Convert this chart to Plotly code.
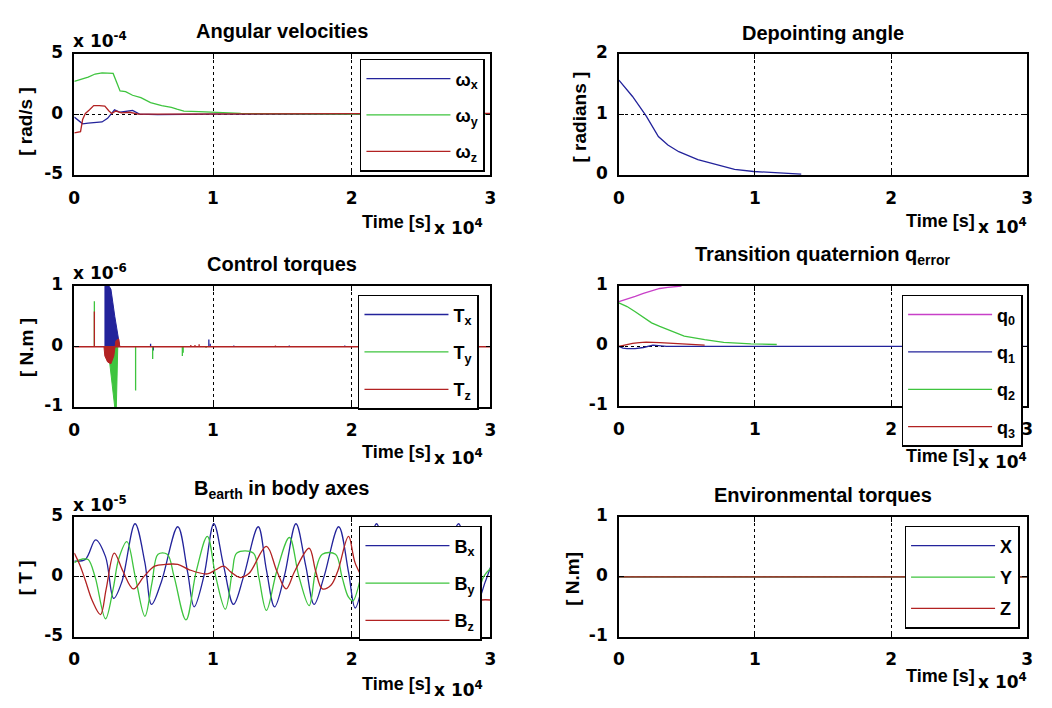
import plotly.graph_objects as go

FONT = "Liberation Sans"
FONT_W = "DejaVu Sans"
PAGE_W, PAGE_H = 1052, 708
BODY_MARGIN = 8                      # default browser margin around the plot div
W, H = PAGE_W - 2 * BODY_MARGIN, PAGE_H - 2 * BODY_MARGIN

C_BLUE = "#23239b"
C_GREEN = "#3ec43e"
C_RED = "#b22222"
C_MAG = "#c840c8"

# ---------------- data ----------------
# Angular velocities (x 1e-4 rad/s)
wx_t = [0, 300, 600, 1000, 1500, 2000, 2400, 2900, 3300, 3700, 4200, 4700, 6000, 10000, 20000, 30000]
wx_v = [-0.2, -0.5, -0.75, -0.7, -0.65, -0.6, -0.3, 0.4, 0.2, 0.25, 0.35, 0.05, 0.0, 0.05, 0.02, 0.02]
wy_t = [0, 500, 1000, 1500, 2000, 2800, 3300, 3700, 4200, 4800, 5500, 6300, 7000, 7400, 7900, 9000, 10500, 12000, 20000, 30000]
wy_v = [2.75, 2.9, 3.1, 3.35, 3.45, 3.4, 1.95, 1.9, 1.6, 1.4, 1.0, 0.75, 0.6, 0.45, 0.3, 0.25, 0.18, 0.1, 0.05, 0.05]
wz_t = [0, 200, 450, 600, 800, 1100, 1400, 1800, 2200, 2500, 2700, 3000, 3400, 4000, 4600, 6000, 10000, 20000, 30000]
wz_v = [-1.5, -1.45, -1.4, -0.4, 0.1, 0.4, 0.75, 0.75, 0.7, 0.3, 0.1, 0.3, 0.15, 0.2, 0.05, 0.05, 0.05, 0.1, 0.1]

# Depointing angle (rad)
dp_t = [0, 1000, 2000, 2900, 3600, 4400, 5800, 7300, 8500, 9900, 11800, 13400]
dp_v = [1.57, 1.30, 0.98, 0.64, 0.50, 0.39, 0.26, 0.17, 0.10, 0.064, 0.035, 0.02]

# Control torques (x 1e-6 N.m): short spikes (time, value) and dense burst envelopes
tx_spk_t = [5500, 5700, 9700, 9800, 11500, 15500, 19500]
tx_spk_v = [0.05, -0.06, 0.12, 0.05, 0.02, 0.02, 0.02]
tx_env_t = [2210, 2210, 2500, 2640, 2920, 3160, 3280]
tx_env_v = [0.0, 1.0, 1.0, 0.95, 0.5, 0.12, 0.0]
ty_spk_t = [1447, 4420, 5650, 7790, 7850, 9500]
ty_spk_v = [0.75, -0.72, -0.2, -0.15, -0.1, -0.02]
ty_env_t = [2420, 2640, 2850, 2920, 3030, 3100, 3135]
ty_env_v = [0.0, -0.4, -0.85, -1.0, -1.0, -0.35, 0.0]
tz_spk_t = [1447, 8400, 8700, 9000, 14500]
tz_spk_v = [0.58, 0.03, 0.03, 0.04, 0.02]
tz_env_t = [2140, 2200, 2400, 2640, 2850, 2920, 3000, 3200, 3280]
tz_env_v = [0.0, -0.15, -0.25, -0.28, -0.15, 0.0, 0.1, 0.13, 0.0]
torque_span = [0, 30000]

# Transition quaternion q_error
q0_t = [0, 600, 1200, 1800, 2400, 3000, 3600, 4600]
q0_v = [0.74, 0.78, 0.83, 0.88, 0.92, 0.96, 0.98, 1.0]
q1_t = [0, 300, 600, 1200, 1800, 2500, 3500, 6300, 30000]
q1_v = [0.0, -0.03, -0.04, -0.04, -0.02, 0.02, 0.0, 0.0, 0.0]
q2_t = [0, 600, 1200, 1800, 2400, 3000, 3600, 4800, 6300, 7700, 9700, 11600]
q2_v = [0.72, 0.66, 0.575, 0.48, 0.39, 0.33, 0.28, 0.17, 0.11, 0.065, 0.04, 0.03]
q3_t = [0, 500, 1000, 1500, 2000, 3000, 4000, 5000, 6300]
q3_v = [0.0, 0.03, 0.05, 0.06, 0.07, 0.06, 0.05, 0.03, 0.02]

# B_earth in body axes (x 1e-5 T)
bx_t = [0, 800, 1540, 2250, 2840, 3430, 4380, 5090, 5570, 6280, 7460, 8170, 8640, 9350, 10060, 10770,
        11480, 12200, 13260, 13850, 14440, 15150, 15980, 16690, 17290, 18000, 19060, 19770, 20250,
        21000, 21790, 22500, 23100, 23800, 24900, 25500, 26000, 26700, 27700, 28400, 29000, 29600, 30000]
bx_v = [1.33, 1.47, 3.1, 1.7, -1.8, -0.4, 4.45, 1.2, -2.3, -0.4, 4.2, 0.4, -2.5, 0.1, 4.45, 0.9,
        -2.3, 0.0, 4.2, 0.6, -2.5, 0.1, 4.45, 0.9, -2.3, 0.0, 4.2, 0.4, -2.6,
        0.5, 4.45, 0.8, -2.3, 0.0, 4.2, 0.5, -2.5, 0.1, 4.45, 0.9, -2.3, -0.5, 0.8]
by_t = [0, 600, 1000, 1500, 2250, 2800, 3200, 3790, 4400, 5090, 5600, 6040, 6700, 7200, 8050, 8800,
        9590, 10200, 10890, 11400, 11720, 12900, 13300, 13850, 14600, 15510, 16200, 16930, 17400,
        17880, 18830, 19300, 19770, 20100, 21500, 22800, 24000, 25000, 25800, 27300, 28700, 29500, 30000]
by_v = [1.2, 1.5, 1.45, 0.0, -3.5, -1.0, 1.5, 2.95, 0.0, -3.3, -0.5, 1.9, 1.9, 0.0, -3.6, 0.5,
        3.4, 0.0, -2.7, 0.5, 2.0, 2.0, 0.0, -2.8, 0.5, 3.3, 0.0, -2.4, 0.5,
        1.9, 1.9, 0.0, -1.7, -2.0, 3.2, -2.5, 1.9, 1.9, -3.0, 3.2, -2.6, 0.0, 0.7]
bz_t = [0, 400, 800, 1300, 1890, 2300, 2880, 3500, 4260, 5000, 5800, 6600, 7460, 8300, 9590, 10200,
        10770, 11300, 11960, 12600, 13850, 14600, 15270, 15900, 16930, 17400, 17880, 18500, 19000,
        19770, 20300, 21500, 22500, 23500, 24500, 25500, 26500, 27500, 28500, 29360, 30000]
bz_v = [2.0, 1.0, -0.3, -2.0, -3.15, -1.0, 2.0, 0.5, -1.0, 0.0, 0.9, 1.05, 1.05, 0.6, 0.25, 0.6,
        0.9, 0.4, -0.05, 0.3, 2.55, 0.5, -1.0, 0.5, 2.4, 0.5, -1.0, -0.7, 0.5,
        3.4, 1.0, -1.0, 1.0, 2.3, -0.5, 1.5, 2.8, -0.5, -2.2, -1.93, -1.93]

# Environmental torques (N.m)
env_t = [0, 30000]
env_x = [0, 0]
env_y = [0, 0]
env_z = [0, 0]

x_ticks = [0, 10000, 20000, 30000]
x_ticktext = ["0", "1", "2", "3"]

# ---------------- geometry (page pixels) ----------------
LX = (69, 490)
RX = (620, 1033)
ROWS = [(43, 168), (282, 407), (520, 643)]


def fx(px):
    return (px - BODY_MARGIN) / W


def fy(py):
    return 1 - (py - BODY_MARGIN) / H


fig = go.Figure()


def add_line(t, v, color, name, ax, legend, width=1.3, show=True, group=None):
    fig.add_trace(go.Scatter(x=t, y=v, mode="lines", name=name, line=dict(color=color, width=width),
                             xaxis="x" + ax, yaxis="y" + ax, legend=legend, showlegend=show,
                             legendgroup=group or name, hoverinfo="skip"))


def spikes(ts, vs):
    xs, ys = [], []
    for t, v in zip(ts, vs):
        xs += [t, t, None]
        ys += [0, v, None]
    return xs, ys


# panel 1: angular velocities
add_line(wx_t, wx_v, C_BLUE, "ω<sub>x</sub>", "", "legend")
add_line(wy_t, wy_v, C_GREEN, "ω<sub>y</sub>", "", "legend")
add_line(wz_t, wz_v, C_RED, "ω<sub>z</sub>", "", "legend")

# panel 2: depointing angle
add_line(dp_t, dp_v, C_BLUE, "depointing", "2", "legend6", show=False)

# panel 3: control torques
for env_tt, env_vv, col, nm in [(tx_env_t, tx_env_v, C_BLUE, "T<sub>x</sub>"),
                                (ty_env_t, ty_env_v, C_GREEN, "T<sub>y</sub>"),
                                (tz_env_t, tz_env_v, C_RED, "T<sub>z</sub>")]:
    fig.add_trace(go.Scatter(x=env_tt, y=env_vv, mode="lines", fill="tozeroy", fillcolor=col,
                             line=dict(color=col, width=1), xaxis="x3", yaxis="y3", legend="legend2",
                             showlegend=False, legendgroup=nm, hoverinfo="skip"))
sx, sy = spikes(tx_spk_t, tx_spk_v)
add_line(sx, sy, C_BLUE, "T<sub>x</sub>", "3", "legend2")
sx, sy = spikes(ty_spk_t, ty_spk_v)
add_line(sx, sy, C_GREEN, "T<sub>y</sub>", "3", "legend2")
sx, sy = spikes(tz_spk_t, tz_spk_v)
add_line(sx + [None] + torque_span, sy + [None, 0, 0], C_RED, "T<sub>z</sub>", "3", "legend2")

# panel 4: quaternion
add_line(q0_t, q0_v, C_MAG, "q<sub>0</sub>", "4", "legend3")
add_line(q1_t, q1_v, C_BLUE, "q<sub>1</sub>", "4", "legend3")
add_line(q2_t, q2_v, C_GREEN, "q<sub>2</sub>", "4", "legend3")
add_line(q3_t, q3_v, C_RED, "q<sub>3</sub>", "4", "legend3")

# panel 5: B earth
for t, v, col, nm in [(bx_t, bx_v, C_BLUE, "B<sub>x</sub>"), (by_t, by_v, C_GREEN, "B<sub>y</sub>"),
                      (bz_t, bz_v, C_RED, "B<sub>z</sub>")]:
    fig.add_trace(go.Scatter(x=t, y=v, mode="lines", name=nm, line=dict(color=col, width=1.3, shape="spline", smoothing=1.0),
                             xaxis="x5", yaxis="y5", legend="legend4", legendgroup=nm, hoverinfo="skip"))

# panel 6: environmental torques
add_line(env_t, env_x, C_BLUE, "X", "6", "legend5")
add_line(env_t, env_y, C_GREEN, "Y", "6", "legend5")
add_line(env_t, env_z, C_RED, "Z", "6", "legend5")

tickfont = dict(family=FONT_W, size=17, color="black", weight="bold")
axis_common = dict(showline=True, linecolor="black", linewidth=1.5, mirror="ticks", ticks="inside",
                   ticklen=5, tickcolor="black", showgrid=True, gridcolor="black", griddash="dot",
                   gridwidth=1, zeroline=False, tickfont=tickfont, fixedrange=True)

panels = [
    ("", LX, ROWS[0], [-5, 5], [-5, 0, 5]),
    ("2", RX, ROWS[0], [0, 2], [0, 1, 2]),
    ("3", LX, ROWS[1], [-1, 1], [-1, 0, 1]),
    ("4", RX, (282, 406), [-1, 1], [-1, 0, 1]),
    ("5", LX, ROWS[2], [-5, 5], [-5, 0, 5]),
    ("6", RX, ROWS[2], [-1, 1], [-1, 0, 1]),
]
layout_axes = {}
for ax, (x0, x1), (y0, y1), yr, yt in panels:
    layout_axes["xaxis" + ax] = dict(axis_common, domain=[fx(x0), fx(x1)], range=[0, 30000],
                                     tickvals=x_ticks, ticktext=x_ticktext, ticklabelstandoff=6,
                                     anchor="y" + ax)
    layout_axes["yaxis" + ax] = dict(axis_common, domain=[fy(y1), fy(y0)], range=yr, tickvals=yt,
                                     ticktext=[str(v) for v in yt],
                                     ticklabelstandoff=6, ticklabelshift=-2, anchor="x" + ax)

ann = []


def text(s, xpx, ypx, size=18, xanchor="center", yanchor="middle", angle=0, family=FONT):
    ann.append(dict(text=s, x=fx(xpx), y=fy(ypx), xref="paper", yref="paper", showarrow=False,
                    xanchor=xanchor, yanchor=yanchor, textangle=angle,
                    font=dict(family=family, size=size, color="black", weight="bold")))


# titles
text("Angular velocities", 279, 19, 20)
text("Depointing angle", 826, 21, 20)
text("Control torques", 279, 259, 20)
text("Transition quaternion q<sub>error</sub>", 826, 251, 20)
text("B<sub>earth</sub> in body axes", 279, 491, 20)
text("Environmental torques", 826, 497, 20)

# y exponent labels
text("x 10<sup>-4</sup>", 66, 29, 17, xanchor="left", family=FONT_W)
text("x 10<sup>-6</sup>", 66, 267, 17, xanchor="left", family=FONT_W)
text("x 10<sup>-5</sup>", 66, 506, 17, xanchor="left", family=FONT_W)

# y-axis labels
text("[ rad/s ]", 20, 112, 19, angle=-90)
text("[ radians ]", 580, 108, 19, angle=-90)
text("[ N.m ]", 20, 345, 19, angle=-90)
text("[ T ]", 20, 582, 19, angle=-90)
text("[ N.m]", 573, 583, 19, angle=-90)

# x-axis labels
for xc, yc in [(395, 216), (945, 215), (395, 453), (945, 457), (395, 692), (945, 684)]:
    text("Time [s]", xc, yc, 18)
    text("x 10<sup>4</sup>", xc + 36, yc + 5, 17, xanchor="left", family=FONT_W)


def legend_cfg(xpx, ypx, gap, size=18):
    return dict(x=fx(xpx), y=fy(ypx), xanchor="left", yanchor="top", bgcolor="white",
                bordercolor="black", borderwidth=1.5, itemwidth=84, tracegroupgap=gap,
                traceorder="grouped", font=dict(family=FONT, size=size, color="black", weight="bold"))


fig.update_layout(
    width=W, height=H, margin=dict(l=0, r=0, t=0, b=0),
    paper_bgcolor="white", plot_bgcolor="white", showlegend=True,
    annotations=ann,
    legend=legend_cfg(358, 48, 10),
    legend2=legend_cfg(356, 291, 11),
    legend3=legend_cfg(906, 291, 11),
    legend4=legend_cfg(357, 529, 11),
    legend5=legend_cfg(909, 529, 5),
    legend6=dict(visible=False),
    **layout_axes,
)

fig.write_html("out.html", config={"displayModeBar": False})
